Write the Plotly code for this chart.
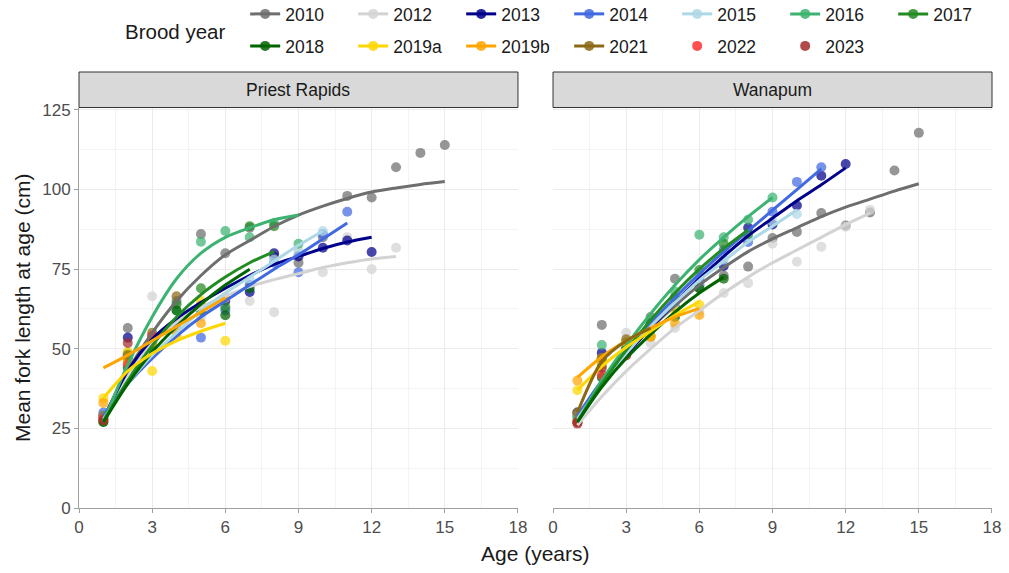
import plotly.graph_objects as go

# ---------------- data ----------------
AGES = list(range(1, 16))
BROOD_YEARS = ["2010", "2012", "2013", "2014", "2015", "2016", "2017",
               "2018", "2019a", "2019b", "2021", "2022", "2023"]
PANELS = ["Priest Rapids", "Wanapum"]

# Priest Rapids: observed mean fork length by age (age 1, 2, ...)
pr_pts_2010 = [28, 56.5, 53, 65, 86, 80, 88, 79, 77, 85, 98, 97.5, 107, 111.5, 114]
pr_pts_2012 = [28, 49, 66.5, 58, 60, 63, 65, 61.5, 81, 74, 85, 75, 81.7]
pr_pts_2013 = [29, 53.5, 50, 58, 63.6, 65, 67.8, 80, 79, 81.7, 84, 80.4]
pr_pts_2014 = [30, 48, 50, 56, 53.5, 62, 70, 77, 74, 86, 93]
pr_pts_2015 = [29, 47, 49, 57, 61, 66, 72, 78, 80, 87]
pr_pts_2016 = [28, 48.4, 54, 62, 83.6, 87, 85, 89.5, 83]
pr_pts_2017 = [27, 47, 52, 64, 69, 63, 88.5, 88.5]
pr_pts_2018 = [27, 44, 50, 62, 62, 60.5, 69]
pr_pts_2019a = [34.5, 49, 43, 54, 65, 52.5]
pr_pts_2019b = [33, 46, 52, 55, 58, 66]
pr_pts_2021 = [29, 48, 55, 66.5]
pr_pts_2022 = [28, 45, 54]
pr_pts_2023 = [27.5, 51.8]

# Priest Rapids: fitted growth curve by age
pr_fit_2010 = [27, 43, 55, 65, 73, 79.5, 84, 88.4, 92, 94.8, 97.2, 99.2, 100.5, 101.6, 102.5]
pr_fit_2012 = [28, 42, 52, 58.5, 63, 66.5, 69.5, 71.7, 73.6, 75.5, 77, 78.2, 79]
pr_fit_2013 = [28, 43, 53, 59.5, 64.5, 69, 73, 76.5, 79, 81.5, 83.5, 85]
pr_fit_2014 = [29, 39, 47, 54, 60, 65, 70, 75, 79.5, 84.5, 89.5]
pr_fit_2015 = [28, 39, 48, 55, 62, 67.5, 72.5, 77.5, 82.5, 87]
pr_fit_2016 = [27, 45, 60, 72, 80, 85, 88, 90.5, 92]
pr_fit_2017 = [27, 40, 51, 60, 67, 72.5, 77, 80.5]
pr_fit_2018 = [27, 39, 49, 57, 64, 70, 75]
pr_fit_2019a = [34.5, 43, 48.5, 52.5, 55.5, 58]
pr_fit_2019b = [44, 48, 52.5, 57, 61.5, 66]

# Wanapum: observed mean fork length by age
w_pts_2010 = [30, 57.5, 50, 60, 72, 69, 73, 75.8, 84.8, 86.7, 92.6, 88.7, 92.8, 106, 117.8]
w_pts_2012 = [28, 44, 55, 51.8, 56.5, 62, 67.5, 70.6, 83, 77.3, 82, 88.3, 93.6]
w_pts_2013 = [29, 48.7, 49, 57, 63, 70, 76, 88, 89, 95, 104.3, 108]
w_pts_2014 = [30, 47, 50, 58, 66, 72, 81, 83.5, 93, 102.4, 107]
w_pts_2015 = [29, 46, 49, 56, 64, 70, 78, 85, 90, 92.3]
w_pts_2016 = [28, 51.2, 52, 59, 68, 85.8, 85, 90.5, 97.5]
w_pts_2017 = [27, 45, 50, 58, 66, 74.7, 83, 86]
w_pts_2018 = [27, 41, 48, 54, 60, 69, 72]
w_pts_2019a = [37, 45, 49, 54, 62, 63.8]
w_pts_2019b = [40, 47, 52, 53.7, 58, 60.6]
w_pts_2021 = [30, 47, 53, 57]
w_pts_2022 = [27, 41.8, 48]
w_pts_2023 = [26.5, 44]

# Wanapum: fitted growth curve by age
w_fit_2010 = [27.5, 39, 48.5, 56.5, 63.5, 70, 75.5, 80.5, 84.5, 88, 91.5, 94.5, 97, 99.5, 101.8]
w_fit_2012 = [26, 35, 43, 50, 56.5, 62, 67.5, 72.5, 77, 81, 85, 89, 92.6]
w_fit_2013 = [28, 39, 48, 56.5, 64.5, 72, 79, 85.5, 91, 96.5, 101.5, 106.8]
w_fit_2014 = [29, 40, 49.5, 58, 66, 73.5, 80.5, 87, 93.5, 100, 106.5]
w_fit_2015 = [28, 39, 48.5, 57, 64.5, 71.5, 77.5, 83.5, 88.5, 93.6]
w_fit_2016 = [27, 40, 51, 61, 70, 78, 85, 91.5, 97.5]
w_fit_2017 = [27, 39, 49.5, 59, 67.5, 75, 81.5, 87.3]
w_fit_2018 = [27, 38, 47, 54.5, 61.5, 67.5, 72.5]
w_fit_2019a = [37, 44.5, 50.5, 55.5, 60.5, 64.7]
w_fit_2019b = [41, 47.5, 52.5, 56.5, 60, 62.7]
w_fit_2021 = [30, 46, 52.5, 56.5]

PR_POINTS = [pr_pts_2010, pr_pts_2012, pr_pts_2013, pr_pts_2014, pr_pts_2015, pr_pts_2016,
             pr_pts_2017, pr_pts_2018, pr_pts_2019a, pr_pts_2019b, pr_pts_2021, pr_pts_2022,
             pr_pts_2023]
PR_FITS = [pr_fit_2010, pr_fit_2012, pr_fit_2013, pr_fit_2014, pr_fit_2015, pr_fit_2016,
           pr_fit_2017, pr_fit_2018, pr_fit_2019a, pr_fit_2019b, None, None, None]
W_POINTS = [w_pts_2010, w_pts_2012, w_pts_2013, w_pts_2014, w_pts_2015, w_pts_2016,
            w_pts_2017, w_pts_2018, w_pts_2019a, w_pts_2019b, w_pts_2021, w_pts_2022,
            w_pts_2023]
W_FITS = [w_fit_2010, w_fit_2012, w_fit_2013, w_fit_2014, w_fit_2015, w_fit_2016,
          w_fit_2017, w_fit_2018, w_fit_2019a, w_fit_2019b, w_fit_2021, None, None]

# ---------------- styles ----------------
COLORS = ["#6E6E6E", "#D3D3D3", "#00008B", "#4169E1", "#ADD8E6", "#3CB371", "#228B22",
          "#006400", "#FFD700", "#FFA500", "#8B6914", "#FF3030", "#A52A2A"]
HAS_LINE_IN_LEGEND = [True] * 11 + [False, False]
FONT = "Liberation Sans, Arial, sans-serif"
TICK_FONT = dict(family=FONT, size=17, color="#4D4D4D")
AXIS_COL = "#A0A0A0"
GRID_COL = "#EBEBEB"
MINOR_GRID_COL = "#F4F4F4"

fig = go.Figure()

panel_axes = [("x", "y", PR_POINTS, PR_FITS), ("x2", "y2", W_POINTS, W_FITS)]

# points first
for xa, ya, pts, fits in panel_axes:
    for yr, col, vals in zip(BROOD_YEARS, COLORS, pts):
        fig.add_trace(go.Scatter(
            x=AGES[:len(vals)], y=vals, mode="markers", xaxis=xa, yaxis=ya,
            marker=dict(color=col, size=10, opacity=0.72, line=dict(width=0)),
            showlegend=False, hoverinfo="skip", cliponaxis=False))
# fitted curves on top
for xa, ya, pts, fits in panel_axes:
    for yr, col, vals in zip(BROOD_YEARS, COLORS, fits):
        if vals is None:
            continue
        fig.add_trace(go.Scatter(
            x=AGES[:len(vals)], y=vals, mode="lines", xaxis=xa, yaxis=ya,
            line=dict(color=col, width=3, shape="spline", smoothing=0.8),
            showlegend=False, hoverinfo="skip"))

# legend entries (two rows)
for i, (yr, col, has_line) in enumerate(zip(BROOD_YEARS, COLORS, HAS_LINE_IN_LEGEND)):
    fig.add_trace(go.Scatter(
        x=[None], y=[None], name=yr,
        mode="lines+markers" if has_line else "markers",
        marker=dict(color=col, size=10, opacity=0.85),
        line=dict(color=col, width=3),
        legend="legend" if i < 7 else "legend2"))

axis_common = dict(range=[0, 18], tickvals=list(range(0, 19, 3)),
                   showgrid=True, gridcolor=GRID_COL, gridwidth=1,
                   minor=dict(tick0=0, dtick=1.5, showgrid=True, gridcolor=MINOR_GRID_COL, ticks=""),
                   showline=True, linecolor=AXIS_COL, linewidth=1,
                   ticks="outside", ticklen=4, tickcolor=AXIS_COL,
                   tickfont=TICK_FONT, zeroline=False)
yaxis_common = dict(range=[0, 125.6], tickvals=list(range(0, 126, 25)),
                    showgrid=True, gridcolor=GRID_COL, gridwidth=1,
                    minor=dict(tick0=0, dtick=12.5, showgrid=True, gridcolor=MINOR_GRID_COL, ticks=""),
                    zeroline=False, tickfont=TICK_FONT)

fig.update_layout(
    width=1009, height=573,
    margin=dict(l=79, r=17, t=108, b=65, autoexpand=False),
    paper_bgcolor="white", plot_bgcolor="white",
    font=dict(family=FONT, color="#1A1A1A"),
    xaxis=dict(domain=[0, 0.4808], anchor="y", **axis_common),
    xaxis2=dict(domain=[0.5192, 1], anchor="y2", **axis_common),
    yaxis=dict(domain=[0, 1], anchor="x", showline=True, linecolor=AXIS_COL, linewidth=1,
               ticks="outside", ticklen=4, tickcolor=AXIS_COL, **yaxis_common),
    yaxis2=dict(domain=[0, 1], anchor="x2", matches="y", showticklabels=False,
                showline=False, ticks="", **yaxis_common),
    legend=dict(orientation="h", x=0.182, xanchor="left", y=1.28, yanchor="top",
                entrywidth=63, entrywidthmode="pixels", bgcolor="rgba(0,0,0,0)",
                font=dict(family=FONT, size=17.5, color="#1A1A1A"), itemwidth=30),
    legend2=dict(orientation="h", x=0.182, xanchor="left", y=1.20, yanchor="top",
                 entrywidth=63, entrywidthmode="pixels", bgcolor="rgba(0,0,0,0)",
                 font=dict(family=FONT, size=17.5, color="#1A1A1A"), itemwidth=30),
)

# facet strips
shapes = []
annotations = []
for xa_dom, label in zip(["x domain", "x2 domain"], PANELS):
    shapes.append(dict(type="rect", xref=xa_dom, yref="paper", x0=0, x1=1,
                       y0=1.00125, y1=1.09, fillcolor="#D9D9D9",
                       line=dict(color="#333333", width=1), layer="below"))
    annotations.append(dict(text=label, xref=xa_dom, yref="paper", x=0.5, y=1.0456,
                            xanchor="center", yanchor="middle", showarrow=False,
                            font=dict(family=FONT, size=17.5, color="#1A1A1A")))

annotations.append(dict(text="Age (years)", xref="paper", yref="paper", x=0.5, y=-0.1125,
                        xanchor="center", yanchor="middle", showarrow=False,
                        font=dict(family=FONT, size=21, color="#1A1A1A")))
annotations.append(dict(text="Mean fork length at age (cm)", xref="paper", yref="paper",
                        x=-0.0624, y=0.5, xanchor="center", yanchor="middle", textangle=-90,
                        showarrow=False, font=dict(family=FONT, size=21, color="#1A1A1A")))
annotations.append(dict(text="Brood year", xref="paper", yref="paper", x=0.048, y=1.1925,
                        xanchor="left", yanchor="middle", showarrow=False,
                        font=dict(family=FONT, size=20.5, color="#1A1A1A")))

fig.update_layout(shapes=shapes, annotations=annotations)

fig.write_html("out.html", config={"displayModeBar": False},
               post_script="document.body.style.margin='0px';")
